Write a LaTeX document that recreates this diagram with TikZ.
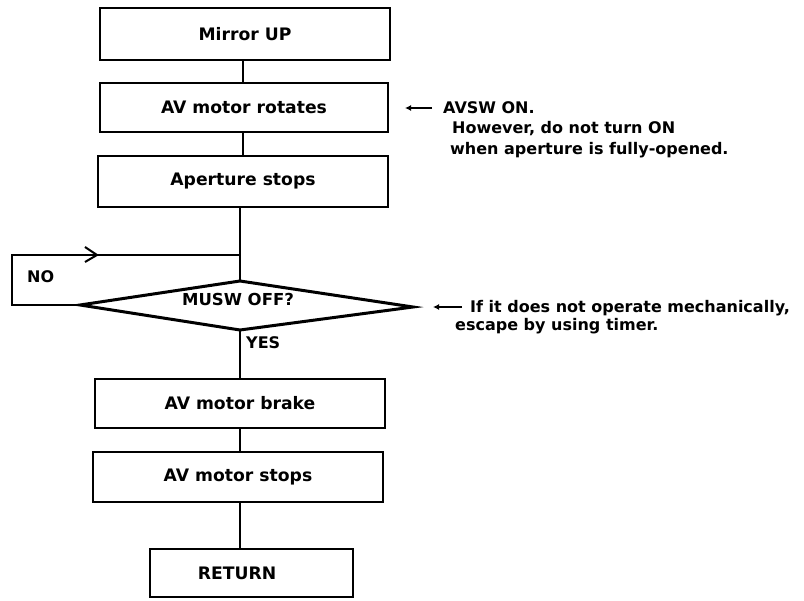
\documentclass[tikz,border=0pt]{standalone}
\usepackage{fontspec}
\setmainfont{DejaVu Sans}
\usetikzlibrary{arrows.meta}
\begin{document}
\begin{tikzpicture}[x=1pt,y=-1pt,
  boxtext/.style={font=\fontsize{17.2}{19}\selectfont\bfseries},
  stepbox/.style={draw, line width=2.4pt, boxtext, inner sep=0pt},
  conn/.style={line width=2pt},
  note/.style={font=\fontsize{16}{20}\selectfont\bfseries, anchor=base west, inner sep=0pt},
  lbl/.style={font=\fontsize{16}{19}\selectfont\bfseries, anchor=west, inner sep=0pt},
  noteArrow/.style={line width=1.5pt, -{Latex[length=6pt,width=6pt]}}]
\useasboundingbox (0,0) rectangle (804,601);
\fill[white] (0,0) rectangle (804,601);

% boxes
\node[stepbox, minimum width=290pt, minimum height=52pt] (mirror) at (245,34) {Mirror UP};
\node[stepbox, minimum width=288pt, minimum height=49pt] (rot) at (244,107.5) {AV motor rotates};
\node[stepbox, minimum width=290pt, minimum height=51pt] (ap) at (243,181.5) {Aperture stops};
\node[stepbox, minimum width=290pt, minimum height=49pt] (brake) at (240,403.5) {AV motor brake};
\node[stepbox, minimum width=290pt, minimum height=50pt] (stops) at (238,477) {AV motor stops};
\node[stepbox, minimum width=203pt, minimum height=48pt] (ret) at (251.5,573) {\hspace*{-29pt}RETURN};

% decision diamond
\coordinate (dt) at (240,281);
\coordinate (db) at (240,330);
\coordinate (dl) at (80,305);
\coordinate (dr) at (413,307);
\draw[line width=3pt, line join=miter] (dt) -- (dr) -- (db) -- (dl) -- cycle;
\node[font=\fontsize{16.5}{19}\selectfont\bfseries, inner sep=0pt] (musw) at (238,299) {MUSW OFF?};

% loop coordinates
\coordinate (join) at (240,255);
\coordinate (nocorner) at (12,255);
\coordinate (chev) at (97,255);

% connectors
\draw[conn] (mirror.south -| 243,0) -- (rot.north -| 243,0);
\draw[conn] (rot.south -| 243,0) -- (ap.north -| 243,0);
\draw[conn] (ap.south -| dt) -- (dt);
\draw[conn] (dl) -- (dl -| nocorner) -- (nocorner) -- (join);
\draw[conn, line join=miter] ([shift={(-12,-8)}]chev) -- (chev) -- ([shift={(-12,7)}]chev);
\draw[conn] (db) -- (db |- brake.north);
\draw[conn] (brake.south -| db) -- (db |- stops.north);
\draw[conn] (stops.south -| db) -- (db |- ret.north);

% labels
\node[lbl] (no) at (27,277) {NO};
\node[lbl] (yes) at (246,343) {YES};

% annotation 1
\coordinate (a1s) at (432,108);
\coordinate (a1e) at (405,108);
\draw[noteArrow] (a1s) -- (a1e);
\node[note] (av1) at (443,113.5) {AVSW ON.};
\node[note] (av2) at (452,134) {However, do not turn ON};
\node[note] (av3) at (450,155) {when aperture is fully-opened.};

% annotation 2
\coordinate (a2s) at (462,307);
\coordinate (a2e) at (433,307);
\draw[noteArrow] (a2s) -- (a2e);
\node[note] (es1) at (470,312.5) {If it does not operate mechanically,};
\node[note] (es2) at (455,331) {escape by using timer.};
\end{tikzpicture}
\end{document}
